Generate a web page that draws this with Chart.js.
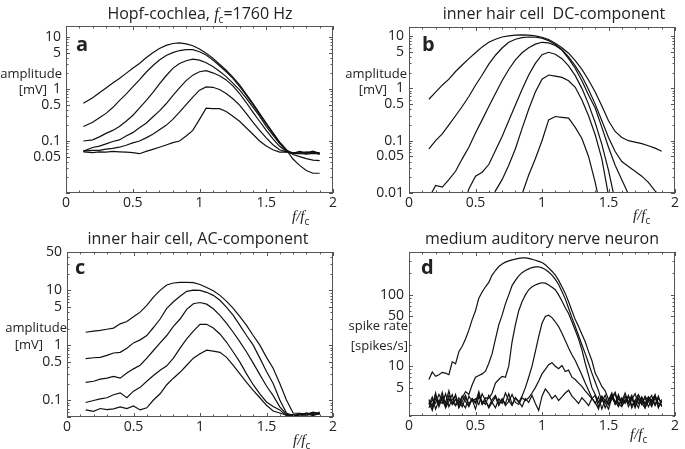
<!DOCTYPE html>
<html>
<head>
<meta charset="utf-8">
<script src="https://cdn.jsdelivr.net/npm/chart.js@4"></script>
<style>
  body { margin: 0; background: #fff; }
  #fig { position: relative; width: 685px; height: 449px; overflow: hidden; font-family: "Open Sans", sans-serif; color: #222; }
  canvas { position: absolute; }
  .title { position: absolute; width: 300px; text-align: center; font-size: 16px; line-height: 20px; white-space: nowrap; }
  .lbl { position: absolute; font-size: 13px; line-height: 16px; white-space: nowrap; text-align: right; }
  .let { position: absolute; font-weight: 700; font-size: 20px; line-height: 24px; }
  .fx { position: absolute; font-family: "Liberation Serif", serif; font-style: italic; font-size: 15px; line-height: 18px; white-space: nowrap; }
  .fx sub, .title sub { font-family: "Open Sans", sans-serif; font-style: normal; font-size: 10px; }
  i { font-family: "Liberation Serif", serif; }
</style>
</head>
<body>
<div id="fig">
  <canvas id="ca" width="342" height="224" style="left:0;top:0"></canvas>
  <canvas id="cb" width="343" height="224" style="left:342px;top:0"></canvas>
  <canvas id="cc" width="342" height="225" style="left:0;top:224px"></canvas>
  <canvas id="cd" width="343" height="225" style="left:342px;top:224px"></canvas>

  <div class="title" style="left:50px;top:3px">Hopf-cochlea, <i>f</i><sub>c</sub>=1760 Hz</div>
  <div class="title" style="left:404px;top:3px">inner hair cell&nbsp; DC-component</div>
  <div class="title" style="left:48px;top:228px">inner hair cell, AC-component</div>
  <div class="title" style="left:392px;top:228px">medium auditory nerve neuron</div>

  <div class="let" style="left:76px;top:32px">a</div>
  <div class="let" style="left:422px;top:32px">b</div>
  <div class="let" style="left:75px;top:255px">c</div>
  <div class="let" style="left:421px;top:255px">d</div>

  <div class="lbl" style="right:623px;top:65px">amplitude</div>
  <div class="lbl" style="right:638px;top:81px">[mV]</div>
  <div class="lbl" style="right:278px;top:65px">amplitude</div>
  <div class="lbl" style="right:298px;top:81px">[mV]</div>
  <div class="lbl" style="right:618px;top:319px">amplitude</div>
  <div class="lbl" style="right:642px;top:336px">[mV]</div>
  <div class="lbl" style="right:277px;top:317px">spike rate</div>
  <div class="lbl" style="right:277px;top:337px">[spikes/s]</div>

  <div class="fx" style="left:292px;top:207px">f/f<sub>c</sub></div>
  <div class="fx" style="left:633px;top:206px">f/f<sub>c</sub></div>
  <div class="fx" style="left:293px;top:431px">f/f<sub>c</sub></div>
  <div class="fx" style="left:630px;top:425px">f/f<sub>c</sub></div>
</div>
<script>
// x positions (f/fc) and traces, one array per curve
const xTicks = [0, 0.5, 1, 1.5, 2];

// a: Hopf-cochlea amplitude [mV]
const aX = [0.13, 0.2, 0.25, 0.3, 0.35, 0.4, 0.45, 0.5, 0.55, 0.6, 0.65, 0.7, 0.75, 0.8, 0.85, 0.9, 0.95, 1, 1.05, 1.1, 1.15, 1.2, 1.25, 1.3, 1.35, 1.4, 1.45, 1.5, 1.55, 1.6, 1.65, 1.7, 1.75, 1.8, 1.85, 1.9];
const a1 = [0.53, 0.68, 0.85, 1.05, 1.3, 1.6, 2.0, 2.5, 3.1, 4.0, 5.0, 6.0, 6.9, 7.5, 7.7, 7.4, 6.8, 5.9, 4.9, 3.9, 3.0, 2.3, 1.7, 1.2, 0.8, 0.53, 0.34, 0.22, 0.145, 0.095, 0.068, 0.045, 0.034, 0.027, 0.024, 0.024];
const a2 = [0.19, 0.23, 0.28, 0.34, 0.44, 0.6, 0.8, 1.1, 1.5, 2.1, 2.8, 3.6, 4.4, 5.0, 5.5, 5.7, 5.7, 5.2, 4.5, 3.6, 2.8, 2.15, 1.6, 1.12, 0.76, 0.5, 0.33, 0.21, 0.14, 0.095, 0.068, 0.055, 0.05, 0.046, 0.043, 0.042];
const a3 = [0.1, 0.105, 0.12, 0.14, 0.16, 0.19, 0.24, 0.31, 0.43, 0.6, 0.85, 1.25, 1.8, 2.5, 3.1, 3.5, 3.75, 3.6, 3.2, 2.7, 2.2, 1.73, 1.3, 0.96, 0.67, 0.45, 0.3, 0.19, 0.13, 0.089, 0.066, 0.058, 0.062, 0.057, 0.061, 0.055];
const a4 = [0.064, 0.075, 0.08, 0.088, 0.098, 0.105, 0.125, 0.145, 0.18, 0.22, 0.29, 0.38, 0.52, 0.75, 1.05, 1.45, 1.85, 2.15, 2.25, 2.05, 1.8, 1.5, 1.15, 0.82, 0.55, 0.36, 0.24, 0.16, 0.11, 0.079, 0.064, 0.058, 0.063, 0.059, 0.064, 0.058];
const a5 = [0.064, 0.066, 0.066, 0.07, 0.072, 0.076, 0.083, 0.092, 0.1, 0.115, 0.135, 0.165, 0.2, 0.26, 0.36, 0.5, 0.7, 0.95, 1.1, 1.08, 0.98, 0.82, 0.65, 0.49, 0.34, 0.23, 0.16, 0.115, 0.085, 0.068, 0.062, 0.06, 0.058, 0.062, 0.059, 0.06];
const a6 = [0.062, 0.06, 0.062, 0.061, 0.063, 0.062, 0.061, 0.06, 0.057, 0.063, 0.069, 0.076, 0.084, 0.093, 0.1, 0.125, 0.16, 0.26, 0.43, 0.42, 0.42, 0.37, 0.3, 0.24, 0.18, 0.135, 0.1, 0.08, 0.068, 0.061, 0.062, 0.057, 0.058, 0.056, 0.058, 0.057];
const aTicks = [0.05, 0.1, 0.5, 1, 5, 10];

// b: inner hair cell DC [mV]
const bX = [0.15, 0.2, 0.25, 0.3, 0.35, 0.4, 0.45, 0.5, 0.55, 0.6, 0.65, 0.7, 0.75, 0.8, 0.85, 0.9, 0.95, 1, 1.05, 1.1, 1.15, 1.2, 1.25, 1.3, 1.35, 1.4, 1.45, 1.5, 1.55, 1.6, 1.65, 1.7, 1.75, 1.8, 1.85, 1.9];
const b1 = [0.62, 0.85, 1.15, 1.5, 2.1, 2.8, 3.7, 4.8, 6.2, 7.6, 8.7, 9.6, 10.1, 10.4, 10.5, 10.4, 10.1, 9.5, 8.6, 7.3, 6.0, 4.7, 3.4, 2.3, 1.45, 0.85, 0.46, 0.24, 0.15, 0.115, 0.1, 0.094, 0.088, 0.08, 0.072, 0.063];
const b2 = [0.07, 0.1, 0.135, 0.2, 0.3, 0.45, 0.7, 1.15, 1.8, 2.9, 4.3, 5.9, 7.6, 8.7, 9.3, 9.6, 9.5, 9.1, 8.2, 6.9, 5.5, 4.0, 2.7, 1.7, 0.95, 0.5, 0.24, 0.115, 0.062, 0.04, 0.032, 0.026, 0.021, 0.016, 0.011, 0.008];
const b3 = [0.008, 0.014, 0.013, 0.018, 0.026, 0.045, 0.075, 0.14, 0.25, 0.45, 0.8, 1.4, 2.3, 3.5, 4.8, 6.0, 7.0, 7.6, 7.4, 6.6, 5.4, 3.7, 2.4, 1.4, 0.75, 0.42, 0.18, 0.075, 0.034, 0.018, 0.0095, 0.005, null, null, null, null];
const b4 = [null, null, null, null, null, 0.004, 0.012, 0.021, 0.025, 0.035, 0.065, 0.12, 0.24, 0.48, 0.95, 1.8, 3.0, 4.4, 4.9, 4.5, 3.7, 2.7, 1.75, 1.0, 0.5, 0.22, 0.085, 0.027, 0.007, null, null, null, null, null, null, null];
const b5 = [null, null, null, null, null, null, null, null, null, 0.005, 0.011, 0.018, 0.034, 0.07, 0.17, 0.4, 0.85, 1.5, 1.8, 1.72, 1.62, 1.4, 1.05, 0.6, 0.3, 0.13, 0.045, 0.009, null, null, null, null, null, null, null, null];
const b6 = [null, null, null, null, null, null, null, null, null, null, null, null, null, 0.004, 0.0095, 0.022, 0.045, 0.1, 0.25, 0.29, 0.28, 0.27, 0.18, 0.11, 0.05, 0.016, 0.004, null, null, null, null, null, null, null, null, null];
const bTicks = [0.01, 0.05, 0.1, 0.5, 1, 5, 10];

// c: inner hair cell AC [mV]
const cX = [0.14, 0.2, 0.25, 0.3, 0.35, 0.4, 0.45, 0.5, 0.55, 0.6, 0.65, 0.7, 0.75, 0.8, 0.85, 0.9, 0.95, 1, 1.05, 1.1, 1.15, 1.2, 1.25, 1.3, 1.35, 1.4, 1.45, 1.5, 1.55, 1.6, 1.65, 1.7, 1.75, 1.8, 1.85, 1.9];
const c1 = [1.72, 1.8, 1.86, 1.95, 2.05, 2.45, 2.7, 3.3, 4.0, 5.3, 7.5, 10.0, 12.5, 13.6, 14.0, 14.0, 13.8, 12.8, 11.3, 9.8, 8.1, 6.3, 4.7, 3.3, 2.3, 1.5, 1.0, 0.6, 0.38, 0.2, 0.1, 0.058, 0.057, 0.055, 0.06, 0.056];
const c2 = [0.57, 0.59, 0.6, 0.65, 0.72, 0.74, 0.88, 1.1, 1.25, 1.5, 2.1, 3.0, 4.7, 6.2, 7.8, 9.6, 10.1, 10.0, 9.2, 8.1, 6.6, 4.9, 3.5, 2.3, 1.5, 1.0, 0.58, 0.33, 0.2, 0.1, 0.058, 0.052, 0.056, 0.054, 0.058, 0.055];
const c3 = [0.21, 0.22, 0.24, 0.25, 0.27, 0.25, 0.31, 0.37, 0.43, 0.58, 0.8, 1.1, 1.5, 2.2, 3.0, 4.5, 5.7, 6.0, 5.6, 4.6, 3.5, 2.5, 1.72, 1.15, 0.75, 0.47, 0.29, 0.18, 0.12, 0.075, 0.055, 0.05, 0.053, 0.058, 0.054, 0.06];
const c4 = [0.09, 0.098, 0.105, 0.11, 0.125, 0.135, 0.11, 0.145, 0.17, 0.22, 0.28, 0.35, 0.42, 0.58, 0.88, 1.3, 1.8, 2.4, 2.4, 2.05, 1.6, 1.13, 0.75, 0.49, 0.3, 0.19, 0.13, 0.092, 0.076, 0.066, 0.052, 0.055, 0.05, 0.056, 0.052, 0.057];
const c5 = [0.066, 0.062, 0.07, 0.067, 0.069, 0.075, 0.07, 0.078, 0.066, 0.072, 0.1, 0.13, 0.19, 0.25, 0.32, 0.43, 0.58, 0.7, 0.81, 0.78, 0.74, 0.6, 0.43, 0.3, 0.21, 0.15, 0.11, 0.08, 0.063, 0.058, 0.053, 0.05, 0.057, 0.052, 0.058, 0.056];
const cTicks = [0.1, 0.5, 1, 5, 10, 50];

// d: auditory nerve spike rate [spikes/s]
const dX = [0.15, 0.175, 0.2, 0.225, 0.25, 0.275, 0.3, 0.325, 0.35, 0.375, 0.4, 0.425, 0.45, 0.475, 0.5, 0.525, 0.55, 0.575, 0.6, 0.625, 0.65, 0.675, 0.7, 0.725, 0.75, 0.775, 0.8, 0.825, 0.85, 0.875, 0.9, 0.925, 0.95, 0.975, 1, 1.025, 1.05, 1.075, 1.1, 1.125, 1.15, 1.175, 1.2, 1.225, 1.25, 1.275, 1.3, 1.325, 1.35, 1.375, 1.4, 1.425, 1.45, 1.475, 1.5, 1.525, 1.55, 1.575, 1.6, 1.625, 1.65, 1.675, 1.7, 1.725, 1.75, 1.775, 1.8, 1.825, 1.85, 1.875, 1.9];
const d1 = [6.5, 8.3, 7.2, 7.6, 8.2, 8.0, 7.6, 11.5, 10.8, 16, 19, 24, 32, 45, 60, 90, 110, 130, 150, 190, 220, 250, 272, 288, 300, 310, 318, 325, 330, 330, 325, 316, 306, 296, 285, 265, 240, 215, 190, 160, 130, 105, 80, 60, 45, 36, 28, 22, 16, 12, 8, 6.5, 5.2, 4.5, 3.4, 4.0, 3.0, 3.8, 3.2, 4.2, 3.0, 3.6, 2.8, 3.9, 3.3, 2.9, 3.7, 3.1, 4.0, 2.7, 3.2];
const d2 = [3.4, 2.6, 3.9, 3.1, 4.3, 2.8, 3.5, 3.0, 4.0, 2.7, 3.6, 4.4, 4.0, 5.5, 7.0, 7.4, 7.8, 8.5, 11, 15, 24, 38, 52, 75, 100, 135, 160, 185, 205, 220, 232, 242, 248, 248, 240, 228, 210, 190, 165, 140, 112, 88, 65, 48, 36, 27, 20, 15, 11, 8, 6, 4.5, 3.2, 3.9, 2.9, 3.5, 4.1, 2.8, 3.4, 3.0, 3.8, 2.6, 3.3, 4.0, 3.1, 3.6, 2.7, 3.4, 3.9, 3.0, 2.8];
const d3 = [2.9, 3.7, 2.5, 3.3, 3.0, 4.1, 2.7, 3.4, 3.8, 2.6, 3.2, 3.9, 2.8, 3.5, 3.1, 4.4, 3.0, 3.6, 3.5, 4.2, 5.8, 6.5, 7.2, 7.0, 10, 22, 38, 60, 80, 100, 118, 130, 138, 144, 148, 146, 138, 128, 118, 100, 82, 66, 55, 42, 32, 24, 17, 11, 7.5, 5, 4.0, 3.1, 3.7, 2.6, 3.3, 4.2, 2.9, 3.5, 3.0, 3.8, 2.7, 3.4, 4.1, 3.0, 3.6, 2.6, 3.3, 3.9, 2.8, 3.5, 3.1];
const d4 = [3.1, 2.4, 3.5, 2.9, 3.8, 2.6, 3.2, 4.0, 2.8, 3.3, 2.7, 3.6, 3.0, 3.4, 2.5, 3.7, 3.2, 2.9, 3.9, 3.1, 2.6, 3.5, 3.0, 4.2, 3.3, 2.8, 3.6, 3.1, 3.8, 5.0, 7, 10, 16, 26, 40, 50, 52, 48, 42, 36, 29, 23, 18, 14.5, 12, 9.5, 7.5, 5.8, 4.6, 3.6, 3.0, 3.7, 2.5, 3.4, 2.9, 4.0, 3.2, 2.7, 3.6, 3.1, 3.9, 2.8, 3.3, 2.6, 3.7, 3.0, 3.5, 2.9, 3.8, 2.6, 3.4];
const d5 = [2.6, 3.4, 3.0, 4.0, 3.3, 2.7, 3.9, 3.1, 2.8, 3.6, 3.0, 2.6, 3.8, 3.2, 3.5, 2.9, 4.1, 3.3, 2.7, 3.4, 3.9, 3.0, 3.5, 2.8, 3.2, 4.0, 3.1, 2.9, 3.6, 3.3, 3.6, 4.2, 5.0, 6.2, 7.8, 9.0, 10.5, 11.2, 10.0, 9.2, 10.2, 8.4, 8.8, 7.0, 6.5, 5.8, 5.2, 4.5, 4.0, 3.5, 3.9, 2.7, 3.4, 3.1, 2.5, 3.6, 3.0, 4.0, 2.8, 3.3, 3.1, 3.7, 2.6, 3.5, 2.9, 3.8, 3.2, 2.7, 3.6, 3.0, 2.9];
const d6 = [3.2, 2.8, 4.2, 2.7, 3.6, 3.1, 4.5, 2.9, 3.4, 3.0, 3.8, 3.2, 2.7, 3.5, 3.0, 4.0, 2.9, 3.3, 2.6, 3.1, 3.7, 2.8, 3.4, 3.0, 4.1, 2.9, 3.6, 3.2, 2.7, 3.5, 3.1, 3.9, 3.0, 2.4, 3.8, 4.8, 4.2, 3.5, 3.9, 3.3, 3.7, 4.2, 4.6, 3.8, 3.4, 3.0, 3.6, 3.2, 2.8, 3.5, 3.1, 2.5, 3.8, 3.3, 2.9, 3.6, 4.3, 3.0, 2.7, 3.4, 3.2, 3.9, 2.8, 3.5, 3.0, 2.6, 3.7, 3.3, 2.9, 3.8, 2.7];
const dTicks = [5, 10, 50, 100];

// box with inward minor ticks on all four sides
const frame = {
  id: "frame",
  afterDatasetsDraw(chart) {
    const { ctx, chartArea: a, scales: { x, y } } = chart;
    ctx.save();
    ctx.strokeStyle = "#555";
    ctx.lineWidth = 1;
    ctx.strokeRect(a.left + 0.5, a.top + 0.5, a.width - 1, a.height - 1);
    ctx.beginPath();
    for (let i = 0; i <= 20; i++) {
      const px = Math.round(x.getPixelForValue(i / 10)) + 0.5;
      const len = i % 5 === 0 ? 4 : 2.5;
      ctx.moveTo(px, a.bottom); ctx.lineTo(px, a.bottom - len);
      ctx.moveTo(px, a.top); ctx.lineTo(px, a.top + len);
    }
    const e0 = Math.floor(Math.log10(y.min)), e1 = Math.ceil(Math.log10(y.max));
    for (let e = e0; e <= e1; e++) {
      for (let m = 1; m < 10; m++) {
        const v = m * Math.pow(10, e);
        if (v < y.min * 0.999 || v > y.max) continue;
        const py = Math.round(y.getPixelForValue(v)) + 0.5;
        const len = m === 1 || m === 5 ? 4 : 2.5;
        ctx.moveTo(a.left, py); ctx.lineTo(a.left + len, py);
        ctx.moveTo(a.right, py); ctx.lineTo(a.right - len, py);
      }
    }
    ctx.stroke();
    ctx.restore();
  }
};

const tickFont = { family: "Open Sans", size: 14 };

function panel(id, xs, curves, yMin, yMax, yTicks, pad, yWidth, xHeight) {
  new Chart(document.getElementById(id), {
    type: "line",
    data: {
      datasets: curves.map((ys) => ({
        data: xs.map((x, i) => ({ x: x, y: ys[i] })),
        borderColor: "#111",
        borderWidth: 1.2,
        pointRadius: 0,
        tension: 0,
        fill: false,
      })),
    },
    options: {
      responsive: false,
      animation: false,
      events: [],
      layout: { padding: pad },
      plugins: { legend: { display: false }, tooltip: { enabled: false } },
      scales: {
        x: {
          type: "linear",
          min: 0,
          max: 2,
          grid: { display: false, drawTicks: false },
          border: { display: false },
          afterBuildTicks: (s) => { s.ticks = xTicks.map((v) => ({ value: v })); },
          afterFit: (s) => { s.height = xHeight; },
          ticks: { color: "#222", font: tickFont, padding: 2, maxRotation: 0, callback: (v) => String(v) },
        },
        y: {
          type: "logarithmic",
          min: yMin,
          max: yMax,
          grid: { display: false, drawTicks: false },
          border: { display: false },
          afterBuildTicks: (s) => { s.ticks = yTicks.map((v) => ({ value: v })); },
          afterFit: (s) => { s.width = yWidth; },
          ticks: { color: "#222", font: tickFont, padding: 5, callback: (v) => String(v) },
        },
      },
    },
    plugins: [frame],
  });
}

panel("ca", aX, [a1, a2, a3, a4, a5, a6], 0.01, 16.3, aTicks, { left: 0, right: 9, top: 26, bottom: 0 }, 66, 31);
panel("cb", bX, [b1, b2, b3, b4, b5, b6], 0.01, 14.9, bTicks, { left: 0, right: 10, top: 27, bottom: 0 }, 67, 31);
panel("cc", cX, [c1, c2, c3, c4, c5], 0.049, 50, cTicks, { left: 0, right: 9, top: 28, bottom: 0 }, 67, 32);
panel("cd", dX, [d1, d2, d3, d4, d5, d6], 2, 400, dTicks, { left: 0, right: 10, top: 28, bottom: 0 }, 67, 33);
</script>
</body>
</html>
